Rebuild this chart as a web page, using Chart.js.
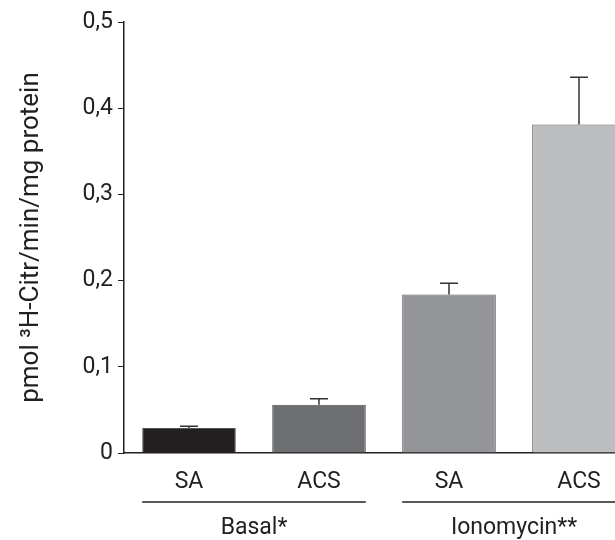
<!DOCTYPE html>
<html>
<head>
<meta charset="utf-8">
<script src="https://cdn.jsdelivr.net/npm/chart.js@4"></script>
<style>
  html, body { margin: 0; padding: 0; background: #fff; overflow: hidden; }
  #wrap { width: 650px; height: 540px; }
</style>
</head>
<body>
<div id="wrap"><canvas id="chart" width="650" height="540"></canvas></div>
<script>
// data
const categories = ['SA', 'ACS', 'SA', 'ACS'];
const groups = ['Basal*', 'Ionomycin**'];
const means = [0.029, 0.056, 0.184, 0.381];
const errors = [0.002, 0.007, 0.013, 0.055];
const barColors = ['#231f20', '#6d6e71', '#939598', '#bcbec0'];
const yTicks = [0, 0.1, 0.2, 0.3, 0.4, 0.5];

const ink = '#231f20';
const font = 'Roboto, "Liberation Sans", sans-serif';

// error bars (upper only) drawn through the scales
const errorBars = {
    id: 'errorBars',
    afterDatasetsDraw(chart) {
        const ctx = chart.ctx;
        const x = chart.scales.x, y = chart.scales.y;
        ctx.save();
        ctx.strokeStyle = '#333';
        ctx.lineWidth = 1.5;
        means.forEach((m, i) => {
            const px = x.getPixelForValue(i);
            const top = y.getPixelForValue(m + errors[i]);
            const base = y.getPixelForValue(m);
            ctx.beginPath();
            ctx.moveTo(px, base);
            ctx.lineTo(px, top);
            ctx.moveTo(px - 9, top);
            ctx.lineTo(px + 9, top);
            ctx.stroke();
        });
        ctx.restore();
    }
};

// group lines and labels below the category labels
const groupLabels = {
    id: 'groupLabels',
    afterDraw(chart) {
        const ctx = chart.ctx;
        const meta = chart.getDatasetMeta(0);
        ctx.save();
        ctx.strokeStyle = ink;
        ctx.fillStyle = ink;
        ctx.lineWidth = 1.5;
        ctx.font = '23px ' + font;
        ctx.textAlign = 'center';
        ctx.textBaseline = 'middle';
        groups.forEach((g, k) => {
            const a = meta.data[k * 2], b = meta.data[k * 2 + 1];
            const left = a.x - a.width / 2, right = b.x + b.width / 2;
            ctx.beginPath();
            ctx.moveTo(left, 502);
            ctx.lineTo(right, 502);
            ctx.stroke();
            ctx.fillText(g, (a.x + b.x) / 2, 528);
        });
        ctx.restore();
    }
};

new Chart(document.getElementById('chart'), {
    type: 'bar',
    data: {
        labels: categories,
        datasets: [{
            data: means,
            backgroundColor: barColors,
            borderColor: '#555',
            borderWidth: 1,
            barPercentage: 0.72,
            categoryPercentage: 1
        }]
    },
    options: {
        responsive: false,
        animation: false,
        layout: { padding: { top: 22, right: 6, bottom: 52, left: 0 } },
        plugins: {
            legend: { display: false },
            tooltip: { enabled: false }
        },
        scales: {
            x: {
                afterFit(scale) { scale.height = 35; },
                grid: { display: false },
                border: { display: true, color: ink, width: 1.5 },
                ticks: { color: ink, font: { family: font, size: 23 }, padding: 7 }
            },
            y: {
                min: 0,
                max: 0.5,
                afterFit(scale) { scale.width = 124; },
                afterBuildTicks(scale) { scale.ticks = yTicks.map(v => ({ value: v })); },
                grid: { display: true, drawOnChartArea: false, drawTicks: true, tickLength: 6, color: ink },
                border: { display: true, color: ink, width: 1.5 },
                ticks: {
                    color: ink,
                    padding: 5,
                    font: { family: font, size: 23 },
                    callback: v => v === 0 ? '0' : v.toFixed(1).replace('.', ',')
                },
                title: {
                    display: true,
                    text: 'pmol ³H-Citr/min/mg protein',
                    color: ink,
                    font: { family: font, size: 26 },
                    padding: { top: 16, bottom: 0 }
                }
            }
        }
    },
    plugins: [errorBars, groupLabels]
});
</script>
</body>
</html>
